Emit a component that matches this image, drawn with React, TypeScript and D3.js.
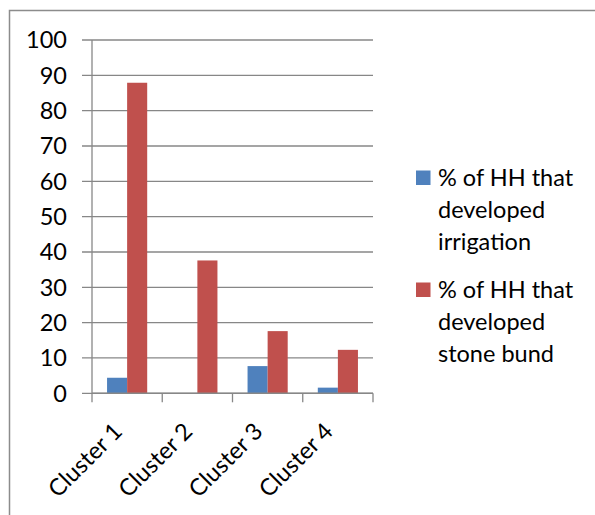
import React, { useEffect, useRef } from "react";
import * as d3 from "d3";

const clusters = ["Cluster 1", "Cluster 2", "Cluster 3", "Cluster 4"];
const seriesNames = ["irrigation", "stone bund"];
const irrigation = [4.4, 0, 7.7, 1.6];
const stoneBund = [87.9, 37.6, 17.6, 12.3];
const yTicks = [0, 10, 20, 30, 40, 50, 60, 70, 80, 90, 100];
const colors = ["#4F81BD", "#C0504D"];
const legendLines = [
  ["% of HH that", "developed", "irrigation"],
  ["% of HH that", "developed", "stone bund"],
];

const FONT = "Lato, 'Open Sans', sans-serif";

function renderChart(el: SVGSVGElement) {
  const svg = d3.select(el);
  svg.selectAll("*").remove();

  const plot = { left: 92, right: 373, top: 40, bottom: 393.3 };
  const gridColor = "#878787";

  // outer frame (top and left edges only are visible)
  svg
    .append("path")
    .attr("d", "M9.5,515 V10.5 H595")
    .attr("fill", "none")
    .attr("stroke", "#8c8c8c")
    .attr("stroke-width", 1.5);

  const x = d3.scaleBand().domain(clusters).range([plot.left, plot.right]);
  const xInner = d3
    .scaleBand()
    .domain(seriesNames)
    .range([0, x.bandwidth()])
    .paddingInner(0)
    .paddingOuter(0.75);
  const y = d3.scaleLinear().domain([0, 100]).range([plot.bottom, plot.top]);

  // gridlines + left tick marks
  svg
    .append("g")
    .selectAll("line")
    .data(yTicks)
    .enter()
    .append("line")
    .attr("x1", plot.left - 10)
    .attr("x2", plot.right)
    .attr("y1", (d) => y(d))
    .attr("y2", (d) => y(d))
    .attr("stroke", gridColor)
    .attr("stroke-width", 1.3);

  svg
    .append("g")
    .selectAll("text")
    .data(yTicks)
    .enter()
    .append("text")
    .attr("x", 67)
    .attr("y", (d) => y(d))
    .attr("dy", "0.36em")
    .attr("text-anchor", "end")
    .attr("font-family", FONT)
    .attr("font-size", 23.5)
    .attr("fill", "#000")
    .text((d) => d);

  // bars
  const data = [irrigation, stoneBund];
  data.forEach((vals, si) => {
    svg
      .append("g")
      .selectAll("rect")
      .data(vals)
      .enter()
      .append("rect")
      .attr("x", (d, i) => (x(clusters[i]) as number) + (xInner(seriesNames[si]) as number))
      .attr("y", (d) => y(d))
      .attr("width", xInner.bandwidth())
      .attr("height", (d) => y(0) - y(d))
      .attr("fill", colors[si]);
  });

  // axes
  svg
    .append("line")
    .attr("x1", plot.left)
    .attr("x2", plot.left)
    .attr("y1", plot.top)
    .attr("y2", plot.bottom)
    .attr("stroke", gridColor)
    .attr("stroke-width", 1.3);
  svg
    .append("line")
    .attr("x1", plot.left)
    .attr("x2", plot.right)
    .attr("y1", plot.bottom)
    .attr("y2", plot.bottom)
    .attr("stroke", gridColor)
    .attr("stroke-width", 1.5);

  const boundaries = clusters.map((c) => x(c) as number).concat([plot.right]);
  svg
    .append("g")
    .selectAll("line")
    .data(boundaries)
    .enter()
    .append("line")
    .attr("x1", (d) => d)
    .attr("x2", (d) => d)
    .attr("y1", plot.bottom)
    .attr("y2", plot.bottom + 9)
    .attr("stroke", gridColor)
    .attr("stroke-width", 1.3);

  // rotated category labels
  svg
    .append("g")
    .selectAll("text")
    .data(clusters)
    .enter()
    .append("text")
    .attr(
      "transform",
      (d) => `translate(${(x(d) as number) + x.bandwidth() / 2 - 15},${plot.bottom + 28}) rotate(-45)`
    )
    .attr("text-anchor", "end")
    .attr("dy", "0.7em")
    .attr("font-family", FONT)
    .attr("font-size", 23.5)
    .attr("fill", "#000")
    .text((d) => d);

  // legend
  const legendTop = [186, 298];
  legendLines.forEach((lines, si) => {
    const g = svg.append("g");
    g.append("rect")
      .attr("x", 416)
      .attr("y", legendTop[si] - 15.5)
      .attr("width", 14.5)
      .attr("height", 14.5)
      .attr("fill", colors[si]);
    g.selectAll("text")
      .data(lines)
      .enter()
      .append("text")
      .attr("x", 438)
      .attr("y", (d, i) => legendTop[si] + i * 32)
      .attr("font-family", FONT)
      .attr("font-size", 23.5)
      .attr("fill", "#000")
      .text((d) => d);
  });
}

export default function App() {
  const ref = useRef<SVGSVGElement>(null);
  useEffect(() => {
    if (ref.current) renderChart(ref.current);
  }, []);
  return (
    <svg
      ref={ref}
      width={595}
      height={515}
      style={{ position: "absolute", left: 0, top: 0, background: "#fff" }}
    />
  );
}
